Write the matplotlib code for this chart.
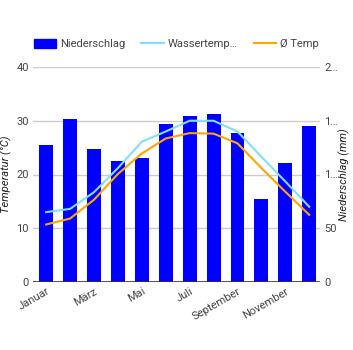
import matplotlib.pyplot as plt
import numpy as np
from matplotlib.patches import Patch
from matplotlib.lines import Line2D

plt.rcParams['font.family'] = ['Roboto', 'DejaVu Sans']

months = ["Januar", "Februar", "März", "April", "Mai", "Juni", "Juli",
          "August", "September", "Oktober", "November", "Dezember"]
niederschlag = [127, 152, 124, 113, 115, 147, 154, 156, 139, 77, 111, 145]
wassertemp = [13.0, 13.6, 16.7, 21.2, 26.1, 28.0, 30.0, 30.0, 28.0, 23.3, 18.7, 14.0]
temp = [10.7, 11.8, 15.3, 20.1, 23.9, 26.7, 27.7, 27.6, 25.8, 21.2, 16.8, 12.5]

grey = "#444444"
fig = plt.figure(figsize=(3.53, 3.50), dpi=100)
ax = fig.add_axes([33 / 353, 1 - 282 / 350, 287 / 353, 215 / 350])
ax2 = ax.twinx()

x = np.arange(len(months))

# Niederschlag auf rechter Achse
ax2.bar(x, niederschlag, width=0.58, color="#0000ff", zorder=2)
ax2.set_ylim(0, 200)
ax2.set_yticks([0, 50, 100, 150, 200])
ax2.set_yticklabels(["0", "50", "1…", "1…", "2…"])

# Temperaturen auf linker Achse (vorne)
ax.set_zorder(ax2.get_zorder() + 1)
ax.patch.set_visible(False)
ax.plot(x, wassertemp, color="#80dfff", lw=1.5, zorder=3)
ax.plot(x, temp, color="#ffa500", lw=1.5, zorder=3)
ax.set_ylim(0, 40)
ax.set_yticks([0, 10, 20, 30, 40])
ax.set_xlim(-0.55, 11.45)

for yv in [10, 20, 30, 40]:
    ax2.axhline(yv * 5, color="#cccccc", lw=1, zorder=1)
ax.axhline(0, color="#333333", lw=1.2, zorder=4)

ax.set_xticks(x[::2])
ax.set_xticklabels(months[::2], rotation=30, ha="right", rotation_mode="anchor")

for a in (ax, ax2):
    for s in a.spines.values():
        s.set_visible(False)
    a.tick_params(length=0, labelsize=8, colors=grey, pad=3)

ax.set_ylabel("Temperatur (°C)", fontsize=8, style="italic", color="#222222",
              va="center")
ax2.set_ylabel("Niederschlag (mm)", fontsize=8, style="italic", color="#222222",
               rotation=90, va="center")
ax.yaxis.set_label_coords(-0.092, 0.5)
ax2.yaxis.set_label_coords(1.085, 0.5)

# Legende
handles = [Patch(color="#0000ff"),
           Line2D([], [], color="#80dfff", lw=1.5),
           Line2D([], [], color="#ffa500", lw=1.5)]
fig.legend(handles, ["Niederschlag", "Wassertemp…", "Ø Temp"],
           loc="center", bbox_to_anchor=(0.5, 1 - 44 / 350), ncol=3, frameon=False,
           fontsize=8, labelcolor=grey, handlelength=2.0, handleheight=0.9,
           columnspacing=1.4, handletextpad=0.4)

fig.savefig("out.png", dpi=100)
